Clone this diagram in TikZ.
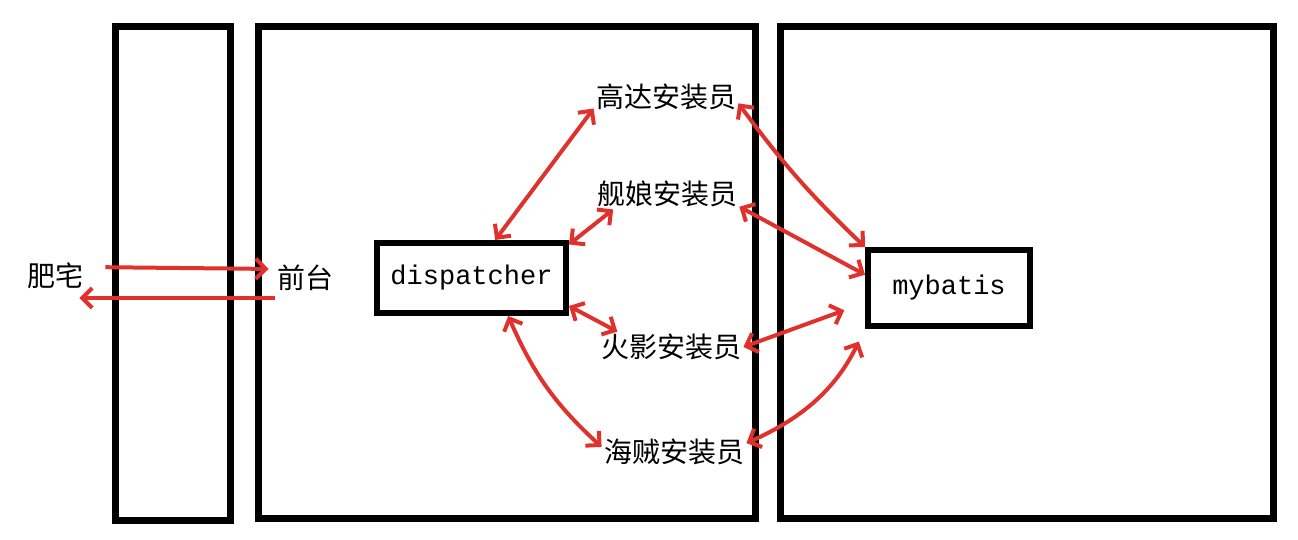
\documentclass[tikz,border=0pt]{standalone}
\usepackage{fontspec}
\setmonofont{Liberation Mono}
\newfontfamily\cjk{Noto Sans CJK SC}
\usetikzlibrary{arrows.meta}
\definecolor{penred}{RGB}{224,50,45}
\tikzset{
  hanzi/.style={inner sep=1pt, font=\cjk\fontsize{14}{16}\selectfont},
  module/.style={draw=black, line width=3pt, font=\ttfamily\fontsize{13.5}{16}\selectfont},
  link/.style={<->, line width=2pt, draw=penred, >={Straight Barb[length=5pt,width=10pt]}},
  wall/.style={line width=3.5pt}
}
\begin{document}
\begin{tikzpicture}[x=0.5pt,y=-0.5pt]
\useasboundingbox (0,0) rectangle (1298,540);
% frames
\draw[wall] (115,27) rectangle (230,520);
\draw[wall] (258,27) rectangle (755,518);
\draw[wall] (780,27) rectangle (1273,518);
% nodes
\node[hanzi] (feizhai) at (55,276) {肥宅};
\node[hanzi] (qiantai) at (305,278) {前台};
\node[module, minimum width=94.5pt, minimum height=35pt] (dispatcher) at (471.5,278) {dispatcher};
\node[hanzi] (gaoda) at (666,97) {高达安装员};
\node[hanzi] (jianniang) at (667,194) {舰娘安装员};
\node[hanzi] (huoying) at (671,347) {火影安装员};
\node[hanzi] (haizei) at (674,452) {海贼安装员};
\node[module, minimum width=81pt, minimum height=38pt] (mybatis) at (949,288) {mybatis};
% links
\path ([yshift=4.5pt]feizhai.east) edge[link, ->, shorten <=10pt, shorten >=3pt] ([yshift=4.5pt]qiantai.west);
\path ([yshift=-10pt]qiantai.west) edge[link, ->, shorten >=-3pt] ([yshift=-11pt]feizhai.east);
\path (dispatcher.58) edge[link] (gaoda.189);
\path (dispatcher.19) edge[link] (jianniang.196);
\path (dispatcher.-16) edge[link] (huoying.164);
\path (dispatcher.-46) edge[link, bend right=12] (haizei.176);
\path (gaoda.-5) edge[link, bend right=5] (mybatis.north west);
\path (jianniang.-10) edge[link] (mybatis.171);
\path (huoying.east) edge[link, shorten >=11pt] (mybatis.190);
\path (haizei.7) edge[link, bend right=20, shorten >=7pt] (mybatis.south west);
\end{tikzpicture}
\end{document}
